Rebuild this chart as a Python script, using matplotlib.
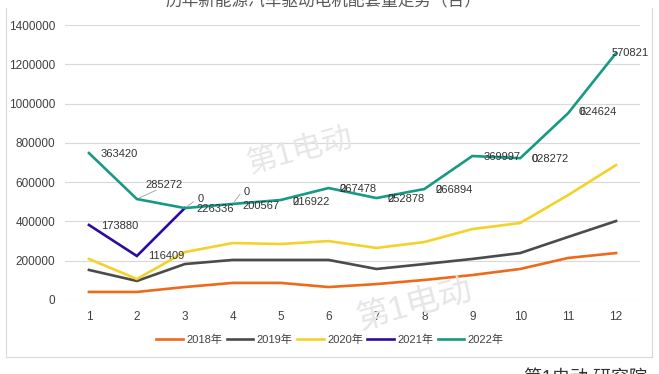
import matplotlib.pyplot as plt
from matplotlib.lines import Line2D
from matplotlib.ticker import FuncFormatter

plt.rcParams['font.family'] = ['Liberation Sans', 'Noto Sans CJK SC', 'DejaVu Sans']

# 月份
months = list(range(1, 13))

# 各年份配套量（台）
y2018 = [41000, 41000, 66000, 87000, 87000, 66000, 81000, 102000, 127000, 158000, 214000, 239000]
y2019 = [153000, 97000, 183000, 204000, 204000, 204000, 158000, 183000, 209000, 239000, 321000, 402000]
y2020 = [209000, 107000, 244000, 290000, 285000, 300000, 265000, 295000, 361000, 392000, 534000, 687000]
y2021 = [382000, 224000, 468000]
y2022 = [748000, 514000, 468000, 489000, 509000, 570000, 519000, 565000, 733000, 722000, 951000, 1257000]

series_names = ["2018年", "2019年", "2020年", "2021年", "2022年"]
colors = ["#ED6A1C", "#4B4B4B", "#F4D22A", "#2C0C98", "#179984"]

# 数据标签（原图中的文字）
labels_2022 = ["363420", "285272", "226336", "200567", "216922", "267478",
               "252878", "266894", "369997", "028272", "624624", "570821"]
labels_2021 = ["173880", "116409", "0"]
zero_labels_idx = [4, 5, 6, 7, 9, 10]

fig = plt.figure(figsize=(6.59, 3.74), dpi=100)
W, H = 659, 374
ax = fig.add_axes([65 / W, 1 - 300 / H, 575 / W, 275 / H])

all_series = [y2018, y2019, y2020, y2021, y2022]
for vals, name, c in zip(all_series, series_names, colors):
    ax.plot(months[:len(vals)], vals, color=c, lw=1.9, label=name,
            solid_joinstyle='miter', zorder=3)

ax.set_xlim(0.5, 12.5)
ax.set_ylim(0, 1400000)
ax.set_yticks(range(0, 1400001, 200000))
ax.yaxis.set_major_formatter(FuncFormatter(lambda v, p: f"{int(v)}"))
ax.set_xticks(months)
ax.tick_params(length=0, labelsize=8.5, colors="#404040", pad=8)
ax.tick_params(axis='y', pad=7)
ax.grid(axis='y', color="#d9d9d9", lw=0.8, zorder=0)
for s in ax.spines.values():
    s.set_visible(False)

lab_kw = dict(textcoords='offset pixels', fontsize=8, color="#333333",
              va='center', ha='left', zorder=5)

# 2022 标签
offs = [(12, -1), (9, 14), (12, -1), (10, -2), (12, -2), (11, -1),
        (11, -1), (11, -1), (11, -1), (11, -1), (11, 1), (-4, 0)]
for i, (t, o) in enumerate(zip(labels_2022, offs)):
    ax.annotate(t, (months[i], y2022[i]), xytext=o, **lab_kw)
# 引导线
ax.annotate("", (months[1], y2022[1]), xytext=(22, 10), textcoords='offset pixels',
            arrowprops=dict(arrowstyle='-', color="#a0a0a0", lw=0.6))
for i in zero_labels_idx:
    ax.annotate("0", (months[i], y2022[i]), xytext=offs[i], **lab_kw)
ax.annotate("0", (months[2], y2022[2]), xytext=(13, 9), **lab_kw)
ax.annotate("0", (months[3], y2022[3]), xytext=(11, 12), **lab_kw)
ax.annotate("", (months[2], y2022[2]), xytext=(11, 8), textcoords='offset pixels',
            arrowprops=dict(arrowstyle='-', color="#a0a0a0", lw=0.6))
ax.annotate("", (months[3], y2022[3]), xytext=(9, 12), textcoords='offset pixels',
            arrowprops=dict(arrowstyle='-', color="#a0a0a0", lw=0.6))

# 2021 标签
ax.annotate(labels_2021[0], (months[0], y2021[0]), xytext=(12, -1), **lab_kw)
ax.annotate(labels_2021[1], (months[1], y2021[1]), xytext=(11, 0), **lab_kw)

# 图例
handles = [Line2D([0], [0], color=c, lw=1.9) for c in colors]
fig.legend(handles, series_names, loc='center', bbox_to_anchor=(330 / W, 1 - 340 / H),
           ncol=5, frameon=False, fontsize=8, handlelength=2.4, handletextpad=0.3,
           columnspacing=0.4, labelcolor="#404040")

# 标题（原图顶部被裁切）
fig.text(0.49, 1.0, "历年新能源汽车驱动电机配套量走势（台）", ha='center', va='center',
         fontsize=12, color="#595959")

# 水印
for (px, py, fs) in [(300, 152, 22), (415, 305, 24)]:
    fig.text(px / W, 1 - py / H, "第1电动", ha='center', va='center', fontsize=fs,
             color="#e6e6e6", rotation=15, zorder=0)

# 右下角标识
fig.text(585 / W, 1 - 378 / H, "第1电动 研究院", ha='center', va='center',
         fontsize=13, color="#333333")

# 图表边框
border = dict(color="#d9d9d9", lw=0.8)
fig.add_artist(Line2D([6 / W, 6 / W], [1 - 357 / H, 1 - 8 / H], **border))
fig.add_artist(Line2D([652 / W, 652 / W], [1 - 357 / H, 1 - 8 / H], **border))
fig.add_artist(Line2D([6 / W, 652 / W], [1 - 357 / H, 1 - 357 / H], **border))

fig.savefig("out.png", dpi=100)
